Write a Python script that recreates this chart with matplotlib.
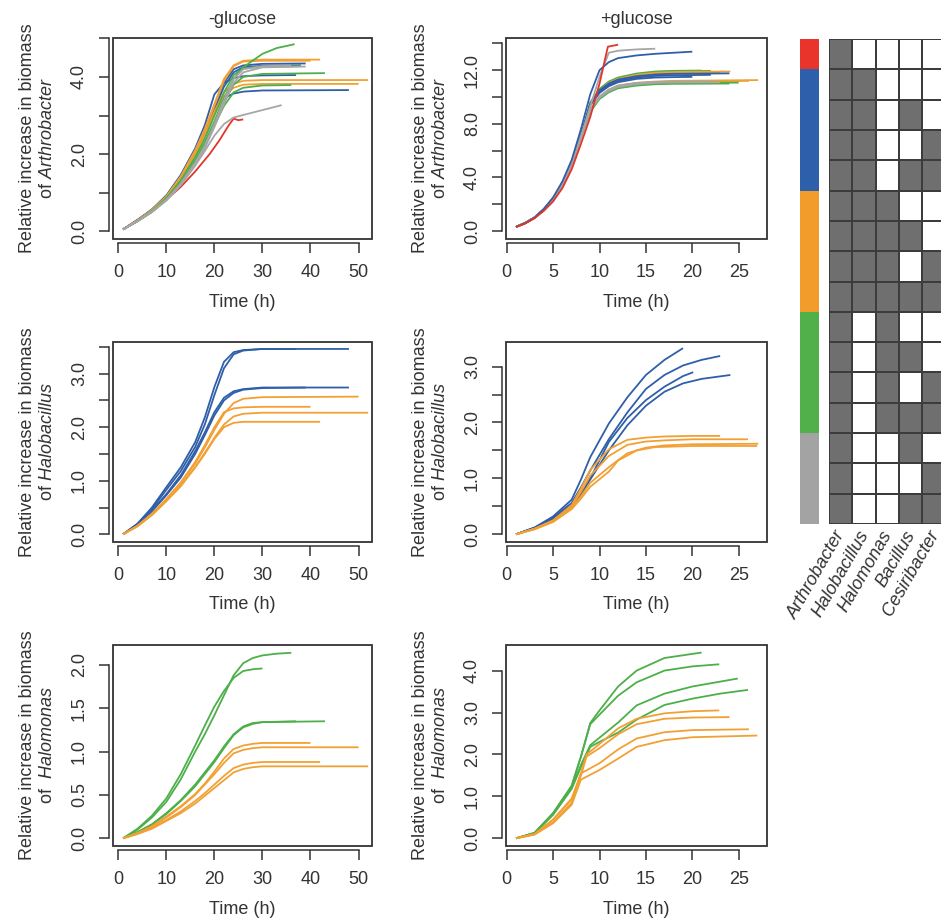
import matplotlib
matplotlib.use('Agg')
import matplotlib.pyplot as plt
from matplotlib.patches import Rectangle
from matplotlib.colors import ListedColormap
import numpy as np

plt.rcParams['font.family'] = ['Liberation Sans', 'DejaVu Sans']
plt.rcParams['mathtext.fontset'] = 'custom'
plt.rcParams['mathtext.rm'] = 'Liberation Sans'
plt.rcParams['mathtext.it'] = 'Liberation Sans:italic'

col = {'red': '#e2352c', 'blue': '#2f5fa9', 'orange': '#f2a033',
       'green': '#4daf4a', 'gray': '#a6a6a6'}
ink = '#333333'

# ---- Arthrobacter, -glucose ----
TA = [1, 4, 7, 10, 13, 16, 18, 20, 22, 24, 26, 30]
arth_minus = [
    ('red', [1, 4, 7, 10, 13, 16, 19, 21, 23, 24, 25, 26],
     [0.05, 0.30, 0.55, 0.82, 1.15, 1.55, 2.00, 2.35, 2.75, 2.92, 2.88, 2.90]),
    ('blue', TA + [39], [0.05, 0.28, 0.55, 0.90, 1.40, 2.05, 2.60, 3.25, 3.85, 4.20, 4.30, 4.34, 4.35]),
    ('blue', TA + [38], [0.05, 0.28, 0.54, 0.88, 1.37, 2.00, 2.52, 3.15, 3.75, 4.12, 4.25, 4.29, 4.30]),
    ('blue', TA + [37], [0.05, 0.29, 0.57, 0.93, 1.46, 2.15, 2.75, 3.55, 3.85, 3.97, 4.02, 4.04, 4.05]),
    ('blue', TA + [48], [0.05, 0.28, 0.55, 0.90, 1.40, 2.05, 2.60, 3.15, 3.45, 3.57, 3.62, 3.65, 3.66]),
    ('orange', TA + [42], [0.05, 0.28, 0.55, 0.90, 1.42, 2.10, 2.65, 3.30, 3.95, 4.30, 4.42, 4.45, 4.45]),
    ('orange', TA + [40], [0.05, 0.28, 0.55, 0.90, 1.40, 2.08, 2.60, 3.25, 3.90, 4.28, 4.40, 4.42, 4.42]),
    ('orange', TA + [52], [0.05, 0.27, 0.53, 0.87, 1.35, 2.00, 2.50, 3.10, 3.60, 3.82, 3.90, 3.92, 3.92]),
    ('orange', TA + [50], [0.05, 0.27, 0.53, 0.86, 1.33, 1.97, 2.45, 3.02, 3.50, 3.72, 3.80, 3.82, 3.82]),
    ('green', TA + [33, 36.7], [0.05, 0.27, 0.52, 0.84, 1.28, 1.85, 2.30, 2.85, 3.45, 3.95, 4.25, 4.60, 4.75, 4.85]),
    ('green', TA + [43], [0.05, 0.26, 0.50, 0.82, 1.25, 1.80, 2.25, 2.80, 3.35, 3.80, 4.00, 4.08, 4.10]),
    ('green', TA + [36], [0.05, 0.26, 0.50, 0.82, 1.25, 1.80, 2.25, 2.75, 3.25, 3.60, 3.72, 3.78, 3.79]),
    ('green', TA + [38], [0.05, 0.27, 0.52, 0.86, 1.32, 1.92, 2.40, 3.00, 3.60, 4.05, 4.22, 4.27, 4.28]),
    ('gray', TA + [39], [0.05, 0.27, 0.50, 0.80, 1.20, 1.72, 2.15, 2.70, 3.30, 3.85, 4.12, 4.25, 4.27]),
    ('gray', [1, 4, 7, 10, 13, 16, 18, 20, 22, 24, 34],
     [0.05, 0.27, 0.50, 0.80, 1.20, 1.70, 2.08, 2.48, 2.78, 2.95, 3.27]),
    ('gray', TA + [36], [0.05, 0.27, 0.51, 0.82, 1.24, 1.78, 2.22, 2.78, 3.40, 3.95, 4.20, 4.28, 4.30]),
]

# ---- Arthrobacter, +glucose ----
TB = [1, 2, 3, 4, 5, 6, 7, 8, 9, 10, 11, 12, 14, 16, 18]
arth_plus = [
    ('green', TB + [21], [0.3, 0.6, 1.0, 1.6, 2.4, 3.5, 5.0, 7.0, 9.6, 10.6, 11.15, 11.45, 11.75, 11.9, 11.95, 11.97]),
    ('green', TB + [22], [0.3, 0.6, 1.0, 1.6, 2.4, 3.5, 5.0, 7.0, 9.5, 10.5, 11.1, 11.4, 11.7, 11.85, 11.92, 11.95]),
    ('orange', TB + [24.1], [0.3, 0.6, 1.0, 1.6, 2.4, 3.5, 5.0, 7.0, 9.5, 10.5, 11.05, 11.35, 11.65, 11.8, 11.86, 11.9]),
    ('orange', TB + [23], [0.3, 0.62, 1.02, 1.65, 2.5, 3.6, 5.1, 7.1, 9.4, 10.4, 10.95, 11.25, 11.55, 11.7, 11.78, 11.82]),
    ('blue', TB + [24], [0.3, 0.6, 1.0, 1.6, 2.4, 3.5, 5.0, 7.1, 9.5, 10.5, 11.0, 11.3, 11.55, 11.68, 11.73, 11.76]),
    ('blue', TB + [22], [0.3, 0.6, 1.0, 1.6, 2.4, 3.5, 5.0, 7.1, 9.4, 10.4, 10.9, 11.2, 11.45, 11.57, 11.62, 11.65]),
    ('blue', TB + [20], [0.3, 0.6, 1.0, 1.6, 2.4, 3.5, 5.0, 7.1, 9.4, 10.3, 10.8, 11.1, 11.35, 11.45, 11.48, 11.5]),
    ('orange', TB + [27.1], [0.3, 0.6, 1.0, 1.6, 2.4, 3.5, 5.0, 7.0, 9.0, 10.0, 10.55, 10.85, 11.05, 11.15, 11.2, 11.26]),
    ('orange', TB + [26.1], [0.3, 0.6, 1.0, 1.6, 2.4, 3.5, 5.0, 7.0, 9.0, 10.0, 10.5, 10.8, 11.0, 11.1, 11.15, 11.2]),
    ('green', TB + [25], [0.3, 0.6, 1.0, 1.6, 2.4, 3.5, 5.0, 7.0, 8.9, 9.9, 10.4, 10.7, 10.9, 11.0, 11.04, 11.07]),
    ('green', TB + [24], [0.3, 0.6, 1.0, 1.6, 2.4, 3.5, 5.0, 7.0, 8.9, 9.85, 10.35, 10.65, 10.85, 10.95, 10.98, 11.0]),
    ('gray', TB + [23], [0.3, 0.6, 1.0, 1.6, 2.4, 3.5, 5.0, 7.0, 9.0, 9.95, 10.45, 10.75, 10.95, 11.05, 11.08, 11.1]),
    ('gray', TB + [22], [0.3, 0.6, 1.0, 1.6, 2.4, 3.5, 5.0, 7.0, 9.1, 10.05, 10.55, 10.85, 11.05, 11.12, 11.15, 11.15]),
    ('gray', [1, 2, 3, 4, 5, 6, 7, 8, 9, 10, 11, 12, 14, 16],
     [0.3, 0.6, 1.0, 1.6, 2.4, 3.5, 5.0, 7.0, 9.3, 11.5, 13.3, 13.45, 13.55, 13.6]),
    ('blue', TB + [20], [0.3, 0.6, 1.0, 1.65, 2.5, 3.7, 5.3, 7.6, 10.2, 12.0, 12.6, 12.9, 13.1, 13.22, 13.3, 13.38]),
    ('red', [1, 2, 3, 4, 5, 6, 7, 8, 9, 10, 10.9, 12],
     [0.3, 0.55, 0.95, 1.5, 2.2, 3.2, 4.6, 6.5, 8.5, 11.0, 13.75, 13.9]),
]

# ---- Halobacillus, -glucose ----
TC = [1, 4, 7, 10, 13, 16, 18, 20, 22, 24, 26, 30]
halob_minus = [
    ('blue', TC + [48], [0.0, 0.20, 0.50, 0.88, 1.25, 1.72, 2.18, 2.75, 3.22, 3.40, 3.44, 3.46, 3.46]),
    ('blue', TC + [37], [0.0, 0.19, 0.47, 0.83, 1.18, 1.63, 2.05, 2.60, 3.10, 3.36, 3.43, 3.46, 3.46]),
    ('blue', TC + [48], [0.0, 0.18, 0.44, 0.75, 1.10, 1.55, 1.90, 2.28, 2.55, 2.67, 2.71, 2.74, 2.74]),
    ('blue', TC + [39], [0.0, 0.18, 0.43, 0.73, 1.06, 1.50, 1.85, 2.22, 2.50, 2.64, 2.70, 2.73, 2.74]),
    ('orange', TC + [50], [0.0, 0.16, 0.38, 0.65, 0.95, 1.32, 1.62, 1.95, 2.25, 2.45, 2.53, 2.56, 2.57]),
    ('orange', TC + [40], [0.0, 0.16, 0.38, 0.66, 0.97, 1.35, 1.66, 2.00, 2.28, 2.35, 2.37, 2.38, 2.38]),
    ('orange', TC + [52], [0.0, 0.15, 0.36, 0.62, 0.90, 1.25, 1.52, 1.80, 2.05, 2.20, 2.25, 2.27, 2.27]),
    ('orange', TC + [42], [0.0, 0.15, 0.36, 0.62, 0.90, 1.25, 1.50, 1.78, 2.00, 2.08, 2.10, 2.10, 2.10]),
]

# ---- Halobacillus, +glucose ----
halob_plus = [
    ('blue', [1, 3, 5, 7, 8, 9, 11, 13, 15, 17, 19],
     [0, 0.12, 0.32, 0.62, 0.98, 1.38, 1.98, 2.45, 2.85, 3.12, 3.33]),
    ('blue', [1, 3, 5, 7, 8, 9, 11, 13, 15, 17, 19, 21, 23],
     [0, 0.12, 0.30, 0.56, 0.84, 1.14, 1.70, 2.18, 2.60, 2.85, 3.02, 3.12, 3.19]),
    ('blue', [1, 3, 5, 7, 8, 9, 11, 13, 15, 17, 19, 20.1],
     [0, 0.11, 0.28, 0.52, 0.74, 1.00, 1.65, 2.08, 2.40, 2.64, 2.83, 2.90]),
    ('blue', [1, 3, 5, 7, 8, 9, 11, 13, 15, 17, 19, 21, 24.1],
     [0, 0.11, 0.28, 0.50, 0.72, 0.98, 1.50, 1.95, 2.30, 2.55, 2.70, 2.78, 2.85]),
    ('orange', [1, 3, 5, 7, 8, 9, 11, 13, 15, 17, 20, 23],
     [0, 0.10, 0.25, 0.52, 0.82, 1.15, 1.52, 1.69, 1.73, 1.75, 1.76, 1.76]),
    ('orange', [1, 3, 5, 7, 8, 9, 11, 13, 15, 17, 20, 26],
     [0, 0.10, 0.24, 0.50, 0.76, 1.05, 1.40, 1.60, 1.66, 1.68, 1.70, 1.70]),
    ('orange', [1, 3, 5, 7, 8, 9, 11, 13, 15, 17, 20, 27.1],
     [0, 0.09, 0.23, 0.47, 0.68, 0.92, 1.20, 1.45, 1.55, 1.59, 1.61, 1.62]),
    ('orange', [1, 3, 5, 7, 8, 9, 11, 12, 14, 16, 20, 27],
     [0, 0.09, 0.22, 0.45, 0.64, 0.85, 1.12, 1.32, 1.50, 1.56, 1.58, 1.58]),
]

# ---- Halomonas, -glucose ----
TE = [1, 4, 7, 10, 13, 16, 18, 20, 22, 24, 26, 28, 30]
halom_minus = [
    ('green', TE + [33, 36], [0, 0.10, 0.24, 0.42, 0.68, 1.00, 1.20, 1.42, 1.65, 1.88, 2.02, 2.08, 2.11, 2.13, 2.14]),
    ('green', TE, [0, 0.11, 0.26, 0.46, 0.74, 1.07, 1.30, 1.52, 1.70, 1.85, 1.93, 1.95, 1.96]),
    ('green', TE + [43], [0, 0.07, 0.16, 0.29, 0.44, 0.62, 0.76, 0.90, 1.06, 1.20, 1.29, 1.33, 1.34, 1.35]),
    ('green', TE + [37], [0, 0.07, 0.16, 0.28, 0.43, 0.60, 0.74, 0.88, 1.04, 1.19, 1.28, 1.32, 1.34, 1.35]),
    ('orange', TE + [40], [0, 0.06, 0.14, 0.25, 0.37, 0.51, 0.63, 0.77, 0.92, 1.03, 1.07, 1.09, 1.10, 1.10]),
    ('orange', TE + [50], [0, 0.06, 0.13, 0.24, 0.36, 0.50, 0.62, 0.74, 0.87, 0.98, 1.02, 1.04, 1.05, 1.05]),
    ('orange', TE + [42], [0, 0.05, 0.12, 0.21, 0.31, 0.43, 0.52, 0.62, 0.72, 0.81, 0.85, 0.87, 0.88, 0.88]),
    ('orange', TE + [52], [0, 0.05, 0.11, 0.20, 0.29, 0.40, 0.49, 0.58, 0.67, 0.76, 0.80, 0.82, 0.83, 0.83]),
]

# ---- Halomonas, +glucose ----
halom_plus = [
    ('green', [1, 3, 5, 7, 8, 9, 10, 12, 14, 17, 21],
     [0, 0.13, 0.60, 1.25, 1.95, 2.75, 3.05, 3.62, 4.00, 4.30, 4.43]),
    ('green', [1, 3, 5, 7, 8, 9, 10, 12, 14, 17, 20, 22.9],
     [0, 0.13, 0.60, 1.25, 1.95, 2.72, 2.95, 3.40, 3.72, 4.00, 4.10, 4.15]),
    ('green', [1, 3, 5, 7, 8, 9, 10, 12, 14, 17, 20, 24.9],
     [0, 0.12, 0.58, 1.20, 1.75, 2.22, 2.40, 2.76, 3.17, 3.45, 3.62, 3.81]),
    ('green', [1, 3, 5, 7, 8, 9, 10, 12, 14, 17, 20, 23, 26],
     [0, 0.12, 0.56, 1.18, 1.70, 2.18, 2.30, 2.52, 2.83, 3.18, 3.33, 3.45, 3.54]),
    ('orange', [1, 3, 5, 7, 8, 8.6, 10, 12, 14, 17, 20, 22.9],
     [0, 0.10, 0.45, 0.95, 1.55, 2.00, 2.25, 2.62, 2.85, 2.98, 3.03, 3.05]),
    ('orange', [1, 3, 5, 7, 8, 8.6, 10, 12, 14, 17, 20, 24],
     [0, 0.10, 0.44, 0.93, 1.50, 1.95, 2.15, 2.48, 2.72, 2.85, 2.88, 2.89]),
    ('orange', [1, 3, 5, 7, 8, 10, 12, 14, 17, 20, 26.1],
     [0, 0.09, 0.38, 0.85, 1.55, 1.79, 2.12, 2.38, 2.53, 2.58, 2.60]),
    ('orange', [1, 3, 5, 7, 8, 10, 12, 14, 17, 20, 27],
     [0, 0.09, 0.36, 0.80, 1.40, 1.63, 1.90, 2.18, 2.34, 2.41, 2.45]),
]

# ---- community composition heatmap ----
genera = ['Arthrobacter', 'Halobacillus', 'Halomonas', 'Bacillus', 'Cesiribacter']
presence = [
    [1, 0, 0, 0, 0],
    [1, 1, 0, 0, 0], [1, 1, 0, 1, 0], [1, 1, 0, 0, 1], [1, 1, 0, 1, 1],
    [1, 1, 1, 0, 0], [1, 1, 1, 1, 0], [1, 1, 1, 0, 1], [1, 1, 1, 1, 1],
    [1, 0, 1, 0, 0], [1, 0, 1, 1, 0], [1, 0, 1, 0, 1], [1, 0, 1, 1, 1],
    [1, 0, 0, 1, 0], [1, 0, 0, 0, 1], [1, 0, 0, 1, 1],
]
row_group = [0, 1, 1, 1, 1, 2, 2, 2, 2, 3, 3, 3, 3, 4, 4, 4]
group_colors = ['#e8342a', '#2e5faa', '#f29c2b', '#52b04a', '#a3a3a3']

W, H = 941, 919
fig = plt.figure(figsize=(W / 100, H / 100), dpi=100)


def px_axes(x0, y0, x1, y1):
    return fig.add_axes([x0 / W, 1 - y1 / H, (x1 - x0) / W, (y1 - y0) / H])


def r_style(ax, xt, yt, ylabs, xlim, ylim, genus):
    ax.set_xlim(xlim)
    ax.set_ylim(ylim)
    ax.add_patch(Rectangle((0, 0), 1, 1, transform=ax.transAxes, fill=False,
                           lw=1.3, ec=ink, clip_on=False, zorder=5))
    for s in ['top', 'right']:
        ax.spines[s].set_visible(False)
    for s in ['left', 'bottom']:
        ax.spines[s].set_position(('outward', 3))
        ax.spines[s].set_color(ink)
        ax.spines[s].set_linewidth(1.1)
    ax.spines['left'].set_bounds(yt[0], yt[-1])
    ax.spines['bottom'].set_bounds(xt[0], xt[-1])
    ax.set_xticks(xt)
    ax.set_xticklabels([str(v) for v in xt])
    ax.set_yticks(yt)
    ax.set_yticklabels(ylabs, rotation=90, va='center')
    ax.tick_params(direction='out', length=7, width=1.1, color=ink,
                   labelcolor=ink, labelsize=13, pad=8)
    ax.set_xlabel('Time (h)', fontsize=13, color=ink)
    ax.xaxis.set_label_coords(0.5, -0.272)
    ax.set_ylabel('Relative increase in biomass\nof $\\mathit{' + genus + '}$',
                  fontsize=13, color=ink, linespacing=1.2)
    ax.yaxis.set_label_coords(-0.22, 0.5)


def draw(ax, curves):
    for c, t, v in curves:
        ax.plot(t, v, color=col[c], lw=1.3, solid_capstyle='butt')


left = (113, 372)
right = (506, 767)
rows = [(38, 239), (342, 542), (645, 846)]

xt_l = [0, 10, 20, 30, 40, 50]
xt_r = [0, 5, 10, 15, 20, 25]

ax = px_axes(left[0], rows[0][0], left[1], rows[0][1])
draw(ax, arth_minus)
r_style(ax, xt_l, [0, 1, 2, 3, 4, 5], ['0.0', '', '2.0', '', '4.0', ''],
        (-1.1, 52.8), (-0.2, 5.01), 'Arthrobacter')
ax.set_title('-glucose', fontsize=13, color=ink, pad=10)

ax = px_axes(right[0], rows[0][0], right[1], rows[0][1])
draw(ax, arth_plus)
r_style(ax, xt_r, [0, 2, 4, 6, 8, 10, 12, 14], ['0.0', '', '4.0', '', '8.0', '', '12.0', ''],
        (-0.08, 28.05), (-0.6, 14.4), 'Arthrobacter')
ax.set_title('+glucose', fontsize=13, color=ink, pad=10)

ax = px_axes(left[0], rows[1][0], left[1], rows[1][1])
draw(ax, halob_minus)
r_style(ax, xt_l, [0, 0.5, 1, 1.5, 2, 2.5, 3, 3.5], ['0.0', '', '1.0', '', '2.0', '', '3.0', ''],
        (-1.1, 52.8), (-0.144, 3.59), 'Halobacillus')

ax = px_axes(right[0], rows[1][0], right[1], rows[1][1])
draw(ax, halob_plus)
r_style(ax, xt_r, [0, 0.5, 1, 1.5, 2, 2.5, 3], ['0.0', '', '1.0', '', '2.0', '', '3.0'],
        (-0.08, 28.05), (-0.138, 3.44), 'Halobacillus')

ax = px_axes(left[0], rows[2][0], left[1], rows[2][1])
draw(ax, halom_minus)
r_style(ax, xt_l, [0, 0.5, 1, 1.5, 2], ['0.0', '0.5', '1.0', '1.5', '2.0'],
        (-1.1, 52.8), (-0.089, 2.23), '\\ Halomonas')

ax = px_axes(right[0], rows[2][0], right[1], rows[2][1])
draw(ax, halom_plus)
r_style(ax, xt_r, [0, 1, 2, 3, 4], ['0.0', '1.0', '2.0', '3.0', '4.0'],
        (-0.08, 28.05), (-0.184, 4.61), '\\ Halomonas')

# colour strip for community groups
n = len(presence)
cax = px_axes(800, 39, 819, 524)
strip = np.array(row_group).reshape(-1, 1)
cax.pcolormesh(strip, cmap=ListedColormap(group_colors), vmin=-0.5, vmax=4.5)
cax.set_ylim(n, 0)
cax.axis('off')

# presence/absence grid
hax = px_axes(829, 39, 945.5, 524)
hax.pcolormesh(np.array(presence), cmap=ListedColormap(['white', '#6f6f6f']),
               vmin=0, vmax=1, edgecolors='#3c3c3c', linewidth=1.4)
hax.set_xlim(0, 5)
hax.set_ylim(n, 0)
hax.axis('off')
for i, g in enumerate(genera):
    hax.text(i + 0.55, n + 0.25, g, rotation=60, rotation_mode='anchor',
             ha='right', va='center', fontsize=13, style='italic', color=ink,
             clip_on=False)

fig.savefig('out.png', dpi=100)
